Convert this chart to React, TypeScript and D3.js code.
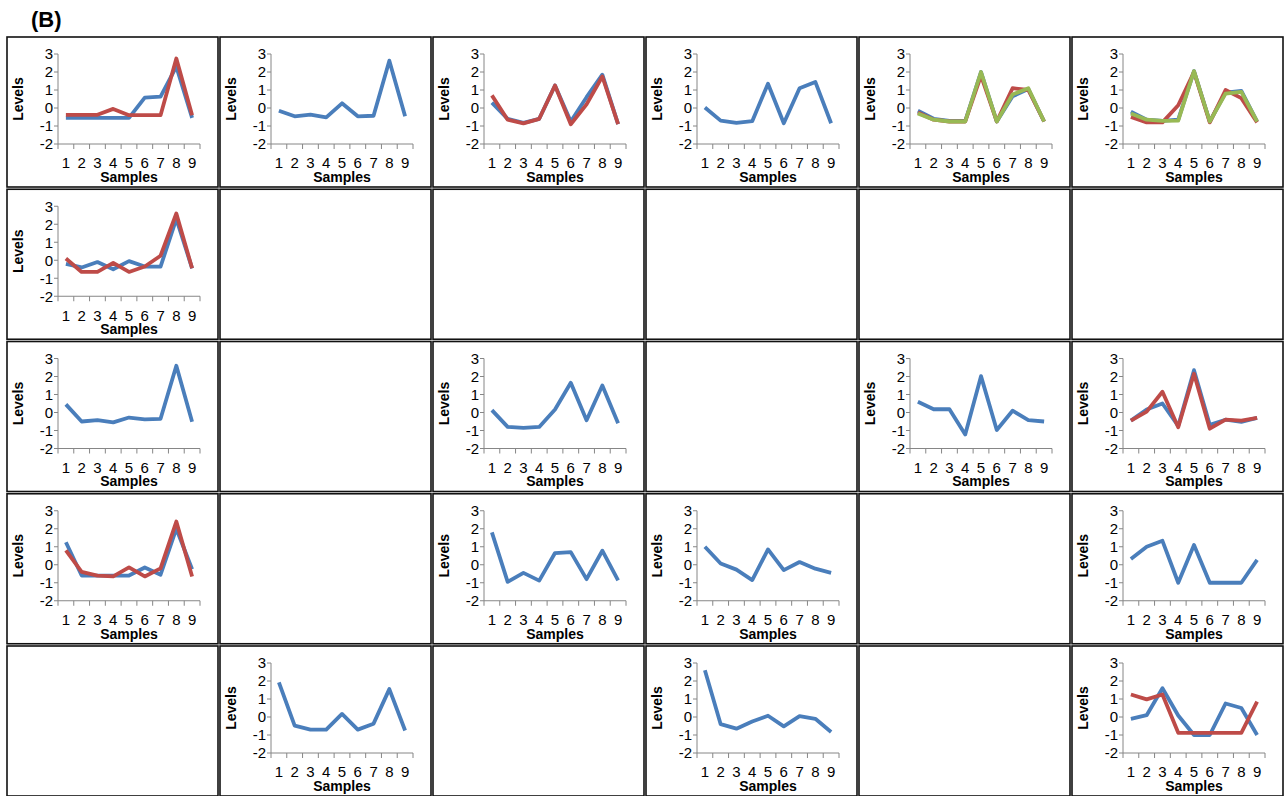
import React from "react";
import * as d3 from "d3";

// x categories and y ticks shared by every small chart
const samples = ["1", "2", "3", "4", "5", "6", "7", "8", "9"];
const levelTicks = [3, 2, 1, 0, -1, -2];
const seriesColors = ["#4A7EBB", "#BE4B48", "#98B954"];

// row 1
const r1c1Blue = [-0.55, -0.55, -0.55, -0.55, -0.55, 0.58, 0.63, 2.3, -0.55];
const r1c1Red = [-0.38, -0.38, -0.38, -0.05, -0.4, -0.4, -0.4, 2.75, -0.4];
const r1c2Blue = [-0.15, -0.46, -0.37, -0.52, 0.26, -0.46, -0.43, 2.63, -0.46];
const r1c3Blue = [0.3, -0.6, -0.83, -0.6, 1.25, -0.75, 0.6, 1.85, -0.9];
const r1c3Red = [0.7, -0.65, -0.85, -0.6, 1.25, -0.9, 0.2, 1.75, -0.9];
const r1c4Blue = [0.03, -0.7, -0.83, -0.73, 1.35, -0.85, 1.1, 1.45, -0.85];
const r1c5Blue = [-0.15, -0.6, -0.72, -0.72, 2.0, -0.75, 0.65, 1.05, -0.75];
const r1c5Red = [-0.25, -0.65, -0.75, -0.75, 1.8, -0.75, 1.1, 1.0, -0.75];
const r1c5Green = [-0.3, -0.65, -0.75, -0.75, 2.0, -0.75, 0.75, 1.1, -0.75];
const r1c6Blue = [-0.2, -0.65, -0.72, -0.65, 2.05, -0.75, 0.85, 0.95, -0.75];
const r1c6Red = [-0.5, -0.8, -0.8, 0.15, 2.0, -0.8, 1.0, 0.55, -0.8];
const r1c6Green = [-0.3, -0.65, -0.72, -0.7, 2.05, -0.75, 0.8, 0.9, -0.75];

// row 2
const r2c1Blue = [-0.2, -0.4, -0.1, -0.5, -0.05, -0.35, -0.35, 2.3, -0.45];
const r2c1Red = [0.1, -0.65, -0.65, -0.15, -0.65, -0.35, 0.25, 2.6, -0.45];

// row 3
const r3c1Blue = [0.45, -0.5, -0.42, -0.55, -0.28, -0.38, -0.35, 2.6, -0.52];
const r3c3Blue = [0.13, -0.8, -0.85, -0.8, 0.17, 1.65, -0.43, 1.5, -0.6];
const r3c5Blue = [0.6, 0.18, 0.18, -1.22, 2.02, -0.97, 0.1, -0.42, -0.5];
const r3c6Blue = [-0.45, 0.17, 0.5, -0.75, 2.35, -0.68, -0.4, -0.52, -0.3];
const r3c6Red = [-0.45, 0.05, 1.15, -0.82, 2.15, -0.9, -0.4, -0.45, -0.3];

// row 4
const r4c1Blue = [1.25, -0.6, -0.6, -0.6, -0.6, -0.15, -0.55, 2.0, -0.25];
const r4c1Red = [0.8, -0.4, -0.6, -0.65, -0.15, -0.65, -0.2, 2.4, -0.65];
const r4c3Blue = [1.8, -0.95, -0.45, -0.88, 0.65, 0.7, -0.8, 0.78, -0.87];
const r4c4Blue = [1.0, 0.07, -0.27, -0.85, 0.85, -0.3, 0.15, -0.22, -0.45];
const r4c6Blue = [0.32, 1.0, 1.33, -1.0, 1.1, -1.0, -1.0, -1.0, 0.27];

// row 5
const r5c2Blue = [1.92, -0.48, -0.7, -0.7, 0.17, -0.7, -0.37, 1.55, -0.75];
const r5c4Blue = [2.6, -0.4, -0.65, -0.25, 0.07, -0.52, 0.05, -0.1, -0.83];
const r5c6Blue = [-0.1, 0.1, 1.6, 0.08, -1.0, -1.0, 0.75, 0.5, -1.0];
const r5c6Red = [1.25, 0.98, 1.25, -0.88, -0.88, -0.88, -0.88, -0.88, 0.85];

// which grid cell holds which series (empty cells are just frames)
const charts: Record<string, number[][]> = {
  "0-0": [r1c1Blue, r1c1Red],
  "0-1": [r1c2Blue],
  "0-2": [r1c3Blue, r1c3Red],
  "0-3": [r1c4Blue],
  "0-4": [r1c5Blue, r1c5Red, r1c5Green],
  "0-5": [r1c6Blue, r1c6Red, r1c6Green],
  "1-0": [r2c1Blue, r2c1Red],
  "2-0": [r3c1Blue],
  "2-2": [r3c3Blue],
  "2-4": [r3c5Blue],
  "2-5": [r3c6Blue, r3c6Red],
  "3-0": [r4c1Blue, r4c1Red],
  "3-2": [r4c3Blue],
  "3-3": [r4c4Blue],
  "3-5": [r4c6Blue],
  "4-1": [r5c2Blue],
  "4-3": [r5c4Blue],
  "4-5": [r5c6Blue, r5c6Red],
};

const W = 1285;
const H = 796;
const panelW = 211;
const panelH = 150;
const font = "'Liberation Sans', Arial, sans-serif";

const colPos = d3.scaleLinear().domain([0, 1]).range([7, 220]);
const rowPos = d3.scaleLinear().domain([0, 1]).range([37, 189.25]);

const x = d3.scaleBand<string>().domain(samples).range([51, 193]).padding(0);
const y = d3.scaleLinear().domain([-2, 3]).range([107, 17]);
const line = d3
  .line<number>()
  .x((_, i) => (x(samples[i]) as number) + x.bandwidth() / 2)
  .y((d) => y(d));

const axisColor = "#868686";

function Panel({ series }: { series?: number[][] }) {
  const x0 = x.range()[0];
  return (
    <g>
      <rect x={0} y={0} width={panelW} height={panelH} fill="#fff" stroke="#111" strokeWidth={1.6} />
      {series && (
        <g>
          {/* y axis */}
          <line x1={x0} x2={x0} y1={y(3)} y2={y(-2)} stroke={axisColor} />
          {levelTicks.map((t) => (
            <g key={t}>
              <line x1={x0 - 4} x2={x0} y1={y(t)} y2={y(t)} stroke={axisColor} />
              <text x={x0 - 5} y={y(t)} dy="0.35em" textAnchor="end" fontFamily={font} fontSize={15}>
                {t}
              </text>
            </g>
          ))}
          {/* x axis */}
          <line x1={x0} x2={x.range()[1]} y1={y(-2)} y2={y(-2)} stroke={axisColor} />
          {d3.range(samples.length + 1).map((i) => {
            const bx = x0 + i * x.bandwidth();
            return <line key={i} x1={bx} x2={bx} y1={y(-2)} y2={y(-2) + 5} stroke={axisColor} />;
          })}
          {samples.map((s) => (
            <text
              key={s}
              x={(x(s) as number) + x.bandwidth() / 2}
              y={126}
              dy="0.35em"
              textAnchor="middle"
              fontFamily={font}
              fontSize={15}
            >
              {s}
            </text>
          ))}
          <text x={122} y={140} dy="0.35em" textAnchor="middle" fontFamily={font} fontSize={14} fontWeight="bold">
            Samples
          </text>
          <text
            transform={`translate(11,${(y(3) + y(-2)) / 2}) rotate(-90)`}
            dy="0.35em"
            textAnchor="middle"
            fontFamily={font}
            fontSize={14}
            fontWeight="bold"
          >
            Levels
          </text>
          {series.map((s, i) => (
            <path
              key={i}
              d={line(s) ?? ""}
              fill="none"
              stroke={seriesColors[i]}
              strokeWidth={3.8}
              strokeLinejoin="round"
            />
          ))}
        </g>
      )}
    </g>
  );
}

export default function App() {
  const rows = d3.range(5);
  const cols = d3.range(6);
  return (
    <svg width={W} height={H} style={{ position: "absolute", left: 0, top: 0, background: "#fff" }}>
      <text x={31} y={27} fontFamily={font} fontSize={22} fontWeight="bold">
        (B)
      </text>
      {rows.map((r) =>
        cols.map((c) => (
          <g key={`${r}-${c}`} transform={`translate(${colPos(c)},${rowPos(r)})`}>
            <Panel series={charts[`${r}-${c}`]} />
          </g>
        ))
      )}
    </svg>
  );
}
